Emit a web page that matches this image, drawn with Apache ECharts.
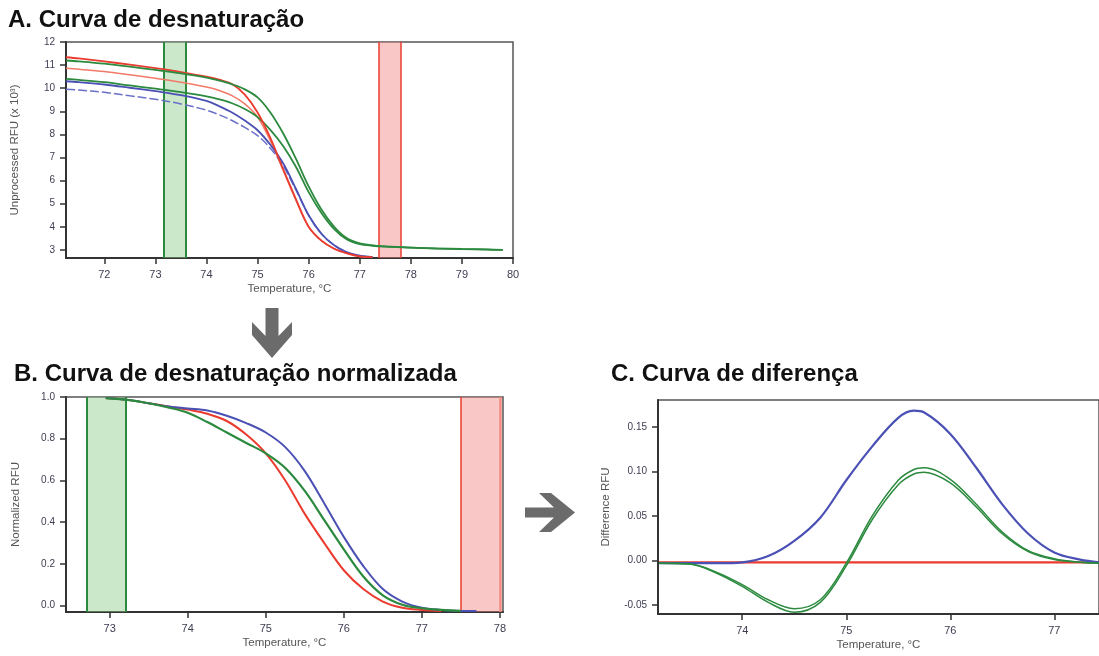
<!DOCTYPE html>
<html><head><meta charset="utf-8">
<script src="https://cdn.jsdelivr.net/npm/echarts@6/dist/echarts.min.js"></script>
<style>html,body{margin:0;padding:0;background:#fff}#c{width:1099px;height:656px}</style>
</head><body><div id="c"></div><script>
// ---------- Panel A: raw melt curves ----------
const tempsA = [71.25,71.5,72,72.5,73,73.5,74,74.25,74.5,74.75,75,75.25,75.5,75.75,76,76.25,76.5,76.75,77,77.25,77.5,78,78.5,79,79.5,79.8];
const red1A   = [11.34,11.29,11.16,11.02,10.87,10.7,10.5,10.37,10.18,9.72,8.95,7.85,6.5,5.2,4.0,3.4,3.05,2.85,2.72,2.69,null,null,null,null,null,null];
const red2A   = [10.86,10.82,10.72,10.58,10.43,10.26,10.05,9.9,9.68,9.32,8.75,7.72,6.45,5.15,4.0,3.4,3.05,2.85,2.72,2.69,null,null,null,null,null,null];
const green1A = [11.2,11.16,11.06,10.93,10.79,10.64,10.46,10.33,10.17,9.95,9.6,8.95,8.05,6.95,5.75,4.75,4.0,3.5,3.28,3.2,3.15,3.1,3.07,3.04,3.02,3.0];
const green2A = [10.4,10.36,10.26,10.12,9.98,9.83,9.65,9.52,9.35,9.1,8.75,8.2,7.5,6.6,5.5,4.6,3.9,3.45,3.25,3.18,3.14,3.1,3.06,3.03,3.01,3.0];
const blue1A  = [10.3,10.26,10.16,10.02,9.87,9.7,9.45,9.22,8.95,8.6,8.18,7.55,6.75,5.65,4.5,3.7,3.2,2.9,2.75,2.69,null,null,null,null,null,null];
const blue2A  = [9.95,9.92,9.82,9.67,9.52,9.32,9.05,8.85,8.6,8.3,7.95,7.4,6.65,5.6,4.5,3.7,3.2,2.9,2.75,2.69,null,null,null,null,null,null];
const xTicksA = [72,73,74,75,76,77,78,79,80];
const yTicksA = [3,4,5,6,7,8,9,10,11,12];
const preMeltA = [73.17,73.6];
const postMeltA = [77.38,77.8];

// ---------- Panel B: normalized curves ----------
const tempsB = [72.95,73.25,73.5,73.75,74,74.25,74.5,74.75,75,75.25,75.5,75.75,76,76.25,76.5,76.75,77,77.25,77.5,77.7];
const redB   = [0.995,0.985,0.97,0.955,0.94,0.92,0.885,0.82,0.73,0.6,0.44,0.3,0.17,0.08,0.02,-0.01,-0.02,-0.025,null,null];
const greenB = [0.995,0.985,0.97,0.95,0.925,0.88,0.83,0.78,0.73,0.66,0.55,0.41,0.27,0.14,0.05,0.005,-0.012,-0.02,-0.025,null];
const blueB  = [0.995,0.985,0.97,0.955,0.945,0.935,0.91,0.875,0.83,0.76,0.645,0.49,0.33,0.19,0.08,0.02,-0.01,-0.02,-0.025,-0.025];
const xTicksB = [73,74,75,76,77,78];
const yTicksB = [0,0.2,0.4,0.6,0.8,1.0];
const preMeltB = [72.7,73.2];
const postMeltB = [77.5,78.0];

// ---------- Panel C: difference curves ----------
const tempsC = [73.2,73.5,73.75,74,74.25,74.5,74.75,75,75.25,75.5,75.65,75.75,76,76.25,76.5,76.75,77,77.25,77.43];
const blueC   = [-0.003,-0.003,-0.003,-0.002,0.005,0.022,0.048,0.09,0.128,0.16,0.168,0.166,0.142,0.104,0.063,0.03,0.009,0.001,-0.002];
const green1C = [-0.003,-0.004,-0.013,-0.027,-0.044,-0.054,-0.044,-0.003,0.05,0.09,0.102,0.104,0.091,0.063,0.032,0.011,0.002,-0.002,-0.003];
const green2C = [-0.003,-0.004,-0.014,-0.029,-0.047,-0.058,-0.047,-0.006,0.046,0.085,0.097,0.099,0.087,0.06,0.03,0.01,0.001,-0.002,-0.003];
const redC    = [-0.002,-0.002,-0.002,-0.002,-0.002,-0.002,-0.002,-0.002,-0.002,-0.002,-0.002,-0.002,-0.002,-0.002,-0.002,-0.002,-0.002,-0.002,-0.002];
const xTicksC = [74,75,76,77];
const yTicksC = [-0.05,0,0.05,0.10,0.15];

const titles = ['A. Curva de desnaturação','B. Curva de desnaturação normalizada','C. Curva de diferença'];
const yNames = ['Unprocessed RFU (x 10³)','Normalized RFU','Difference RFU'];
const xName = 'Temperature, °C';

const RED='#ea3b2e', RED2='#f27a68', GREEN='#2b8a3e', BLUE='#4a50b4', BLUE2='#6a70c8';
const pair = (xs, ys) => xs.map((x,i)=>[x, ys[i]]);

function xAx(gi, min, max, ticks){
  return {type:'value', gridIndex:gi, min, max, name:xName, nameLocation:'middle', nameGap:25,
    nameTextStyle:{color:'#555', fontSize:11.5, fontFamily:'Liberation Sans'},
    axisLine:{show:true, onZero:false, lineStyle:{color:'#333', width:2}},
    axisTick:{show:true, inside:false, length:6, customValues:ticks, lineStyle:{color:'#333', width:1.5}},
    axisLabel:{margin:11, customValues:ticks, color:'#3d3d52', fontSize:11, fontFamily:'Liberation Sans'},
    splitLine:{show:false}};
}
function yAx(gi, min, max, ticks, fmt, gap){
  return {type:'value', gridIndex:gi, min, max, name:yNames[gi], nameLocation:'middle', nameGap:gap, nameRotate:90,
    nameTextStyle:{color:'#555', fontSize:11.5, fontFamily:'Liberation Sans'},
    axisLine:{show:true, onZero:false, lineStyle:{color:'#333', width:2}},
    axisTick:{show:true, inside:false, length:6, customValues:ticks, lineStyle:{color:'#333', width:1.5}},
    axisLabel:{margin:11, customValues:ticks, formatter:fmt, color:'#3d3d52', fontSize:10, fontFamily:'Liberation Sans'},
    splitLine:{show:false}};
}
function line(gi, xs, ys, color, opts){
  return Object.assign({type:'line', xAxisIndex:gi, yAxisIndex:gi, data:pair(xs,ys), smooth:0.35,
    showSymbol:false, symbol:'none', z:5, lineStyle:{color, width:1.8}, itemStyle:{color}}, opts||{});
}
function band(gi, range, fill, edgeL, edgeR, wL, wR){
  return {type:'line', xAxisIndex:gi, yAxisIndex:gi, data:[], z:2,
    markArea:{silent:true, itemStyle:{color:fill}, data:[[{xAxis:range[0]},{xAxis:range[1]}]]},
    markLine:{silent:true, symbol:'none', label:{show:false},
      data:[{xAxis:range[0], lineStyle:{color:edgeL, width:wL, type:'solid'}},
            {xAxis:range[1], lineStyle:{color:edgeR, width:wR, type:'solid'}}]}};
}

const chart = echarts.init(document.getElementById('c'), null, {renderer:'canvas'});
const gb = {show:true, borderColor:'#555', borderWidth:1.5, backgroundColor:'transparent'};
const T = {fontSize:24, fontWeight:'bold', color:'#111', fontFamily:'Liberation Sans'};
chart.setOption({
  animation:false,
  backgroundColor:'#fff',
  title:[
    {text:titles[0], left:8, top:8, padding:0, textStyle:T},
    {text:titles[1], left:14, top:362, padding:0, textStyle:T},
    {text:titles[2], left:611, top:362, padding:0, textStyle:T}
  ],
  grid:[
    Object.assign({left:66, top:42, width:447, height:216}, gb),
    Object.assign({left:66, top:397, width:437, height:215}, gb),
    Object.assign({left:658, top:400, width:442, height:214}, gb)
  ],
  xAxis:[ xAx(0,71.25,80,xTicksA), xAx(1,72.44,78.04,xTicksB), xAx(2,73.19,77.43,xTicksC) ],
  yAxis:[
    yAx(0,2.65,12,yTicksA,v=>String(Math.round(v)),45),
    yAx(1,-0.03,1.0,yTicksB,v=>v.toFixed(1),44),
    yAx(2,-0.06,0.18,yTicksC,v=>v.toFixed(2),46)
  ],
  series:[
    band(0, preMeltA, 'rgba(140,205,140,0.45)', GREEN, GREEN, 2, 2),
    band(0, postMeltA, 'rgba(245,130,130,0.45)', RED, RED, 1.5, 1.5),
    line(0, tempsA, red2A, RED2, {lineStyle:{color:RED2, width:1.5}}),
    line(0, tempsA, blue2A, BLUE2, {lineStyle:{color:BLUE2, width:1.5, type:[9,3]}}),
    line(0, tempsA, blue1A, BLUE),
    line(0, tempsA, green2A, GREEN),
    line(0, tempsA, red1A, RED),
    line(0, tempsA, green1A, GREEN),

    band(1, preMeltB, 'rgba(140,205,140,0.45)', GREEN, GREEN, 2, 2),
    band(1, postMeltB, 'rgba(245,130,130,0.45)', RED, '#f28a80', 1.5, 2.5),
    line(1, tempsB, redB, RED, {lineStyle:{color:RED, width:2}}),
    line(1, tempsB, blueB, BLUE, {lineStyle:{color:BLUE, width:2}}),
    line(1, tempsB, greenB, GREEN, {lineStyle:{color:GREEN, width:2.2}}),

    line(2, tempsC, redC, RED, {lineStyle:{color:RED, width:2.2}}),
    line(2, tempsC, blueC, BLUE, {lineStyle:{color:BLUE, width:2.2}}),
    line(2, tempsC, green1C, GREEN, {lineStyle:{color:GREEN, width:1.5}}),
    line(2, tempsC, green2C, GREEN, {lineStyle:{color:GREEN, width:1.5}})
  ],
  graphic:[
    {type:'polygon', shape:{points:[[265.5,308],[278.5,308],[278.5,336],[292,322],[292,335],[272,358],[252,335],[252,322],[265.5,336]]}, style:{fill:'#6b6b6b'}},
    {type:'polygon', shape:{points:[[525,507.5],[554,507.5],[539,493],[551,493],[575,512.5],[551,532],[539,532],[554,517.5],[525,517.5]]}, style:{fill:'#6b6b6b'}}
  ]
});
</script></body></html>
